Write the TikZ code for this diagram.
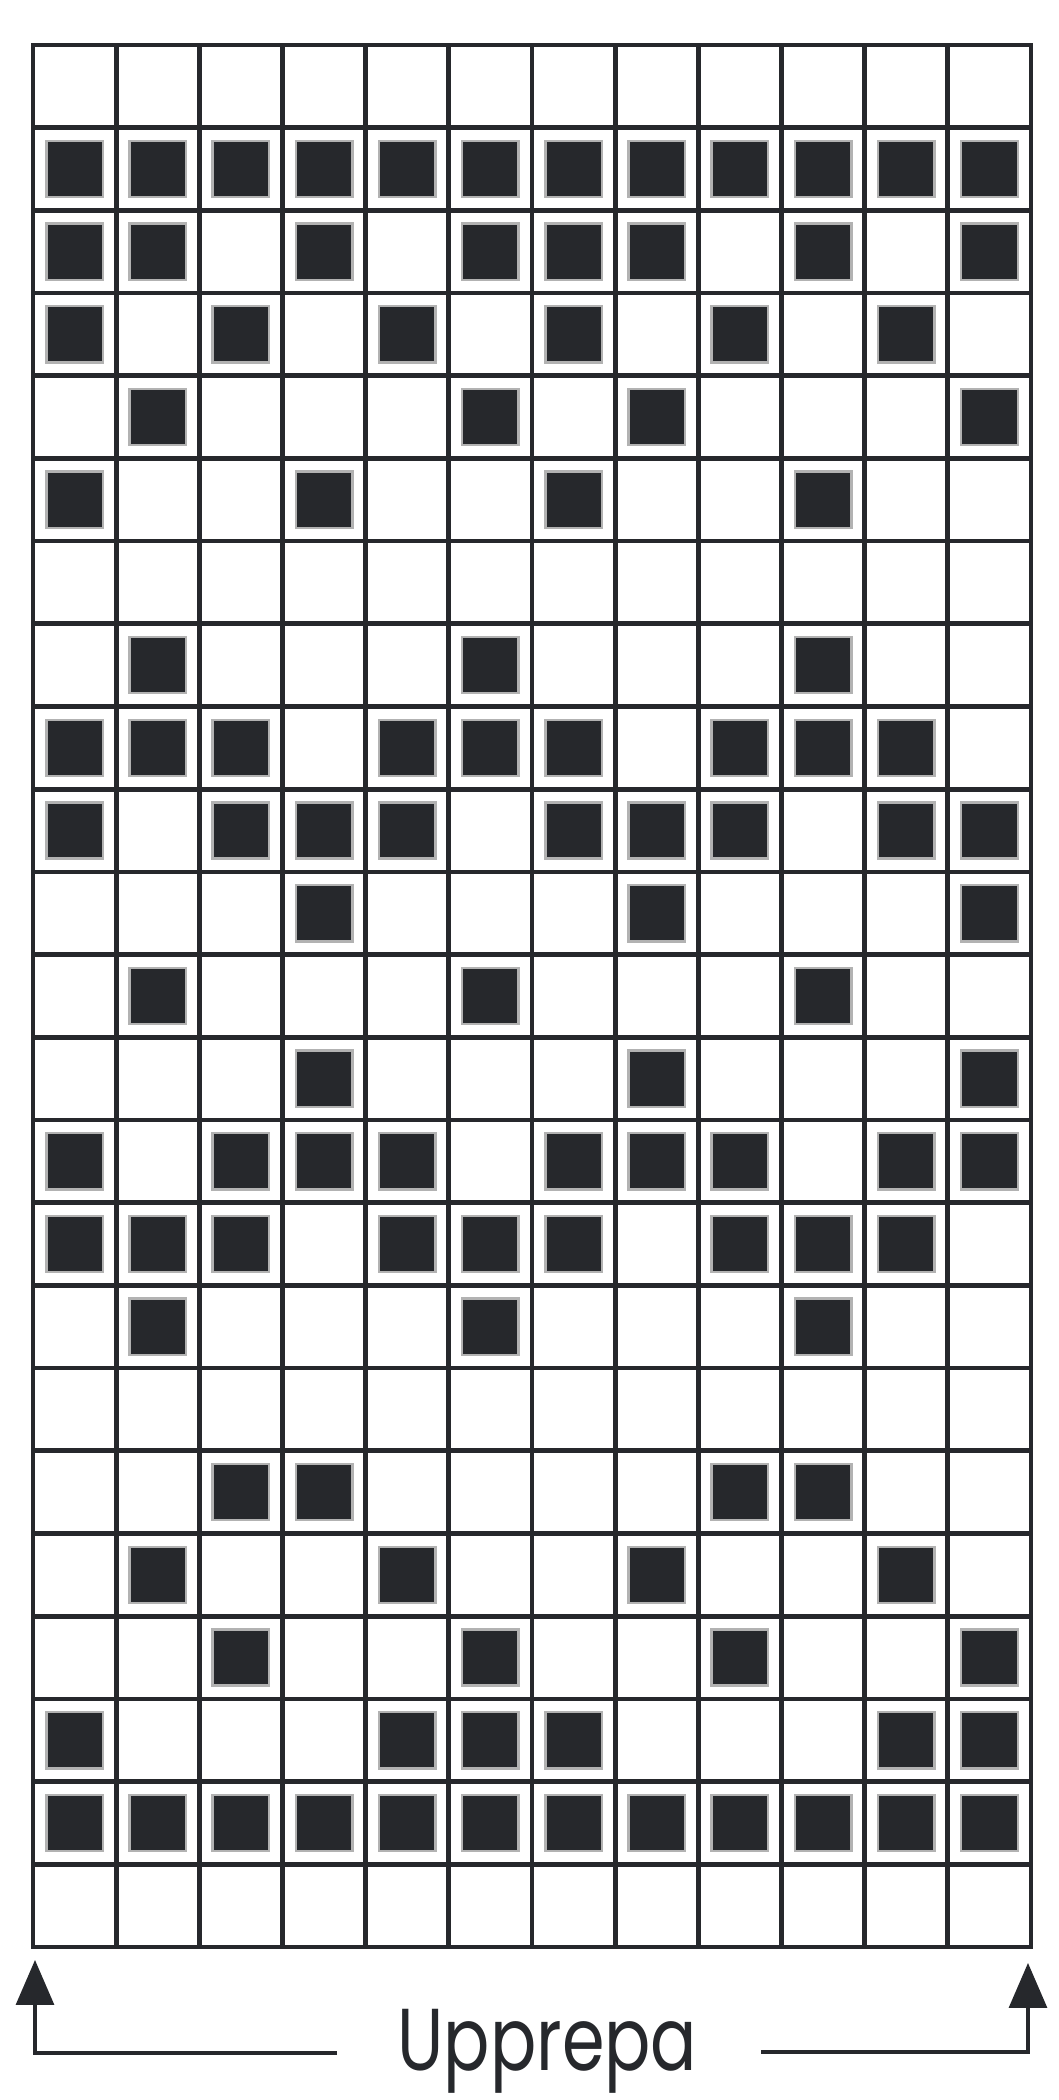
\documentclass[tikz,border=0pt]{standalone}
\usepackage{fontspec}
\setmainfont{Poppins}
\usetikzlibrary{arrows.meta}

\definecolor{ink}{RGB}{38,40,44}
\tikzset{
  gridline/.style={draw=ink, line width=1.35pt, line cap=rect},
  stitch/.style={fill=ink, draw=black!30, line width=0.7pt},
  repline/.style={draw=ink, line width=0.9pt, -{Triangle[width=0.38cm,length=0.45cm]}}
}

\begin{document}
\begin{tikzpicture}
\useasboundingbox (0,0) rectangle (10.58,21);
\begin{scope}[shift={(0.33,1.53)}, x=0.8317cm, y=0.827cm]
% dark stitches, rows counted from the top
\foreach \r/\cols in {2/{1,...,12}, 3/{1,2,4,6,7,8,10,12}, 4/{1,3,5,7,9,11},
    5/{2,6,8,12}, 6/{1,4,7,10}, 8/{2,6,10}, 9/{1,2,3,5,6,7,9,10,11},
    10/{1,3,4,5,7,8,9,11,12}, 11/{4,8,12}, 12/{2,6,10}, 13/{4,8,12},
    14/{1,3,4,5,7,8,9,11,12}, 15/{1,2,3,5,6,7,9,10,11}, 16/{2,6,10},
    18/{3,4,9,10}, 19/{2,5,8,11}, 20/{3,6,9,12}, 21/{1,5,6,7,11,12},
    22/{1,...,12}}
  \foreach \c in \cols
    \filldraw[stitch] (\c-0.84, 23.84-\r) rectangle (\c-0.16, 23.16-\r);
% grid
\foreach \c in {0,...,12}
  \draw[gridline] (\c,0) -- (\c,23);
\foreach \r in {0,...,23}
  \draw[gridline] (0,\r) -- (12,\r);
\end{scope}
% repeat mark
\begin{scope}[shift={(5.475,0.30)}, xscale=0.78]
\node[anchor=base, transform shape, font=\fontsize{25}{30}\selectfont, text=ink] (upprepa) at (0,0) {Upprepa};
\end{scope}
\coordinate (lend) at (3.37,0.47);
\coordinate (lfoot) at (0.35,0.47);
\coordinate (ltip) at (0.35,1.40);
\coordinate (rend) at (7.61,0.48);
\coordinate (rfoot) at (10.28,0.48);
\coordinate (rtip) at (10.28,1.37);
\draw[repline] (lend) -- (lfoot) -- (ltip);
\draw[repline] (rend) -- (rfoot) -- (rtip);
\end{tikzpicture}
\end{document}
